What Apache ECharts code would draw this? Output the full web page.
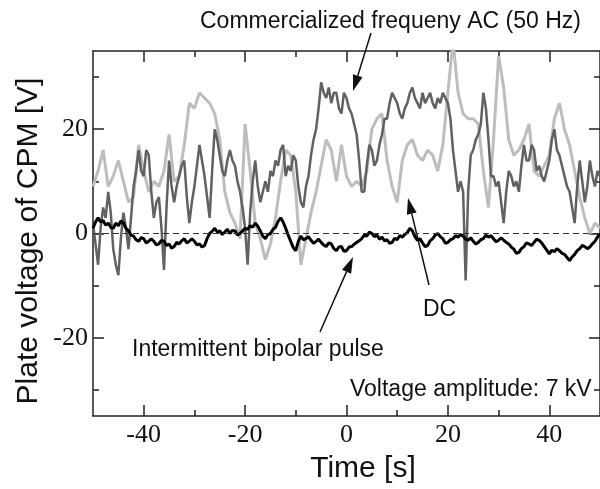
<!DOCTYPE html>
<html>
<head>
<meta charset="utf-8">
<script src="https://cdn.jsdelivr.net/npm/echarts@6/dist/echarts.min.js"></script>
<style>
  html, body { margin: 0; padding: 0; background: #fff; }
  #chart { width: 600px; height: 489px; }
</style>
</head>
<body>
<div id="chart"></div>
<script>
// time axes: 1 s steps for DC, 0.5 s steps for the noisier traces
const timeS = Array.from({ length: 101 }, (_, i) => i - 50);
const timeHalf = Array.from({ length: 201 }, (_, i) => i / 2 - 50);

// DC (light gray), 1 s steps
const dcV = [
  9, 12, 16, 9, 11, 14, 10, 6, 7, 17,
  12, 8, 10, 9, 12, 19, 10, 11, 17, 25,
  24, 27, 26, 25, 23, 18, 8, 4, 2, -1,
  21, 12, 2, -1, -5, -2, 3, 10, 16, 15,
  8, -6, -1, 4, 8, 13, 18, 16, 10, 17,
  11, 9, 10, 9, 12, 20, 22, 23, 14, 9,
  6, 14, 17, 18, 15, 14, 16, 15, 12, 17,
  27, 37, 27, 23, 22, 22, 21, 12, 5, 18,
  34, 28, 18, 15, 16, 18, 21, 12, 11, 13,
  15, 22, 25, 20, 17, 12, 7, 3, 0, 2,
  1
];

// commercialized frequency AC 50 Hz (dark gray), 0.5 s steps
const acV = [
  2, -2, -6, 1, 5, 3, 8, 4, -3, -6,
  -8, -1, 4, 1, -3, 3, 9, 12, 16, 12,
  11, 16, 15, 8, 3, 6, 7, 1, -7, 5,
  14, 9, 6, 9, 11, 13, 14, 7, 2, 6,
  9, 13, 17, 14, 11, 7, 3, 12, 20, 18,
  15, 12, 11, 14, 16, 14, 13, 10, 8, 5,
  1, -6, 4, 10, 14, 9, 6, 8, 10, 8,
  12, 11, 14, 13, 16, 17, 11, 13, 12, 15,
  14, 9, 6, 5, 9, 11, 15, 18, 20, 24,
  29, 27, 26, 28, 25, 27, 27, 24, 23, 27,
  26, 24, 23, 21, 19, 14, 8, 8, 13, 17,
  16, 13, 14, 17, 19, 22, 22, 25, 27, 26,
  25, 23, 22, 24, 25, 27, 28, 26, 25, 24,
  27, 25, 26, 27, 25, 24, 26, 25, 27, 26,
  25, 22, 16, 12, 8, 10, 8, -9, 8, 15,
  16, 18, 19, 21, 27, 24, 18, 11, 11, 9,
  10, 6, 2, 8, 12, 11, 9, 10, 8, 13,
  17, 14, 14, 17, 16, 12, 13, 11, 10, 12,
  14, 18, 20, 16, 15, 13, 11, 9, 8, 5,
  2, 9, 14, 10, 6, 9, 14, 11, 9, 12,
  11
];

// intermittent bipolar pulse (black), 0.5 s steps
const pulseV = [
  1, 2.2, 3, 2.2, 2.5, 1.6, 2, 1.2, 1, 2,
  1.5, 2.4, 2, 1, 0.5, -0.3, -0.5, -1.2, -1.5, -0.8,
  -1, -1.8, -1.5, -1, -1.5, -2.2, -2, -1.3, -1.5, -2.3,
  -2, -2.8, -2.5, -1.7, -2, -1.4, -1, -1.8, -1.5, -1,
  -1.5, -2.2, -2, -2.6, -2.3, -1, 0, 0.4, 1, 0.3,
  0.5, -0.2, 0.3, 0.8, 0, 0.6, 0.5, -0.3, 0, 0.5,
  1, 0.8, 1.5, 1.2, 2, 1.4, 0.5, -0.5, -1, -0.2,
  0, 0.8, 1.2, 2.3, 3, 2.2, 1, -0.3, -1.5, -2.7,
  -3.3, -1.5, -0.5, -1.2, -1, -0.6, -1.3, -1.9, -1.5, -1.1,
  -1.7, -2.2, -2.5, -1.8, -2, -2.9, -3.3, -2.6, -2.5, -3.4,
  -3.3, -2.6, -2.5, -2.1, -1.7, -1.4, -1, -0.3, -0.5, 0.3,
  0, -0.6, -0.3, -1.1, -0.7, -1.4, -1.2, -1.9, -1.7, -0.9,
  -1.2, -0.4, -0.7, -0.2, 0.2, 1, 0.5, -0.6, -1.3, -1,
  -1.8, -2.5, -2.3, -1.4, -1, -0.3, 0, -0.6, -1, -1.9,
  -1.7, -1.2, -1, -0.4, -0.7, -0.2, -0.5, -1.1, -1.3, -0.8,
  -1.5, -2, -1.7, -1.2, -1, -0.3, -0.7, -0.4, -1, -1.6,
  -1.3, -0.8, -1.3, -1.7, -2, -2.6, -3, -3.8, -3.6, -2.9,
  -2.5, -1.8, -2, -2.3, -1.7, -1.1, -1.3, -1.8, -2.5, -3.2,
  -3.9, -3.2, -3.5, -2.9, -3.3, -3.8, -4, -4.6, -5.2, -4.5,
  -4, -3.3, -2.9, -2.3, -2.5, -2.9, -2.6, -2, -1.5, -0.7,
  0
];

const xMajor = [-40, -20, 0, 20, 40];
const xMinor = [-30, -10, 10, 30];
const yMajor = [-20, 0, 20];
const yMinor = [-30, -10, 10, 30];

const frame = { show: true, onZero: false, lineStyle: { color: '#222', width: 1.5 } };
const tickFont = { fontFamily: 'Liberation Serif', fontSize: 26, color: '#111' };

function xAx(pos, ticks, len, labels, line) {
  return {
    type: 'value', position: pos, min: -50, max: 50, interval: 10,
    axisLine: line ? frame : { show: false, onZero: false },
    axisTick: { show: true, inside: true, length: len, customValues: ticks, lineStyle: { color: '#222', width: 1.5 } },
    axisLabel: labels ? Object.assign({ customValues: ticks, margin: 6 }, tickFont) : { show: false },
    splitLine: { show: false }
  };
}
function yAx(pos, ticks, len, labels, line) {
  return {
    type: 'value', position: pos, min: -35, max: 35,
    axisLine: line ? frame : { show: false, onZero: false },
    axisTick: { show: true, inside: true, length: len, customValues: ticks, lineStyle: { color: '#222', width: 1.5 } },
    axisLabel: labels ? Object.assign({ customValues: ticks, margin: 5 }, tickFont) : { show: false },
    splitLine: { show: false }
  };
}

function arrow(x1, y1, x2, y2) {
  const a = Math.atan2(y2 - y1, x2 - x1);
  const L = 16, W = 5;
  const bx = x2 - L * Math.cos(a), by = y2 - L * Math.sin(a);
  const px = -Math.sin(a) * W, py = Math.cos(a) * W;
  return [
    { type: 'line', shape: { x1: x1, y1: y1, x2: bx, y2: by }, style: { stroke: '#111', lineWidth: 1.5 } },
    { type: 'polygon', shape: { points: [[x2, y2], [bx + px, by + py], [bx - px, by - py]] }, style: { fill: '#111' } }
  ];
}

const annFont = { fontFamily: 'Liberation Sans', fontSize: 23, fill: '#111' };
function label(text, x, y, align) {
  return { type: 'text', x: x, y: y, style: Object.assign({ text: text, align: align || 'left', verticalAlign: 'middle' }, annFont) };
}

const chart = echarts.init(document.getElementById('chart'));
chart.setOption({
  animation: false,
  grid: { left: 93, right: -4, top: 51, bottom: 73 },
  xAxis: [
    xAx('bottom', xMajor, 11, true, true),
    xAx('bottom', xMinor, 6, false, false),
    xAx('top', xMajor, 11, false, true),
    xAx('top', xMinor, 6, false, false)
  ],
  yAxis: [
    yAx('left', yMajor, 11, true, true),
    yAx('left', yMinor, 6, false, false),
    yAx('right', yMajor, 11, false, true),
    yAx('right', yMinor, 6, false, false)
  ],
  series: [
    {
      name: 'DC', type: 'line', showSymbol: false, z: 2,
      data: timeS.map((t, i) => [t, dcV[i]]),
      lineStyle: { color: '#bdbdbd', width: 3 }
    },
    {
      name: 'AC', type: 'line', showSymbol: false, z: 3,
      data: timeHalf.map((t, i) => [t, acV[i]]),
      lineStyle: { color: '#616161', width: 2.5 }
    },
    {
      name: 'Pulse', type: 'line', showSymbol: false, z: 4,
      data: timeHalf.map((t, i) => [t, pulseV[i]]),
      lineStyle: { color: '#000', width: 3 },
      markLine: {
        silent: true, symbol: 'none', label: { show: false },
        lineStyle: { color: '#333', width: 1, type: [6, 4] },
        data: [{ yAxis: 0 }]
      }
    }
  ],
  graphic: [
    { type: 'text', x: 29, y: 241, rotation: Math.PI / 2,
      style: { text: 'Plate voltage of CPM [V]', fontFamily: 'Liberation Sans', fontSize: 30, fill: '#111', align: 'center', verticalAlign: 'middle' } },
    { type: 'text', x: 363, y: 469,
      style: { text: 'Time [s]', fontFamily: 'Liberation Sans', fontSize: 30, fill: '#111', align: 'center', verticalAlign: 'middle' } },
    label('Commercialized frequeny AC (50 Hz)', 200, 22),
    label('Intermittent bipolar pulse', 132, 350),
    label('DC', 423, 310),
    label('Voltage amplitude: 7 kV', 350, 390)
  ].concat(arrow(371, 33, 353, 91), arrow(429, 285, 408, 198), arrow(320, 332, 353, 257))
});
</script>
</body>
</html>
